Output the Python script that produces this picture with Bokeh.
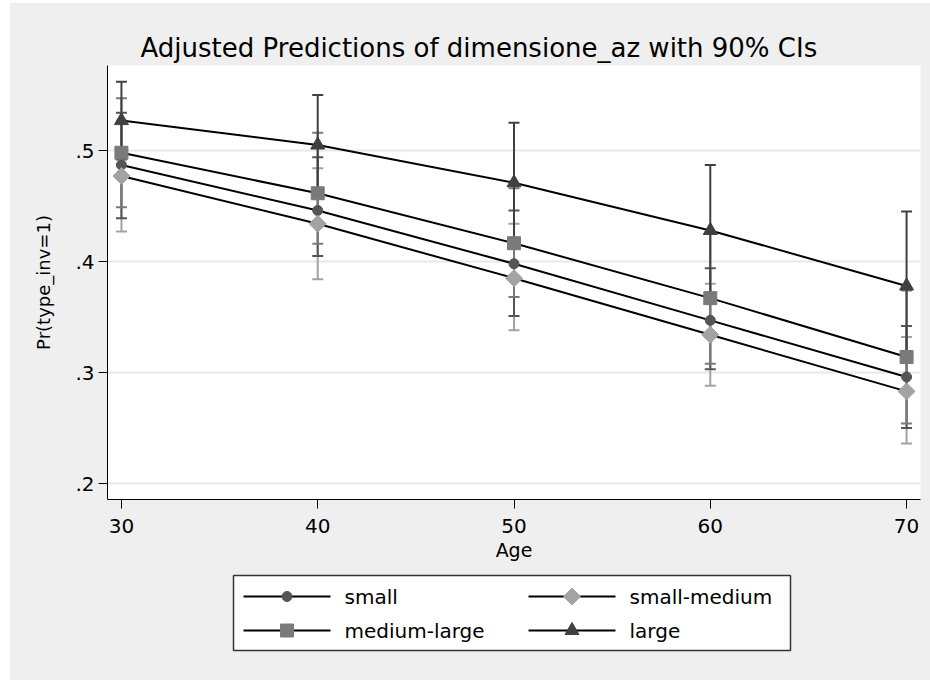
from bokeh.plotting import figure
from bokeh.layouts import column
from bokeh.models import (Range1d, FixedTicker, CustomJSTickFormatter, Title)
from bokeh.core.properties import value
from bokeh.embed import file_html
from bokeh.resources import INLINE
import math

# ---- data ----
ages = [30, 40, 50, 60, 70]
series_names = ["small", "small-medium", "medium-large", "large"]

small = [0.487, 0.446, 0.398, 0.347, 0.296]
small_lo = [0.439, 0.405, 0.351, 0.303, 0.250]
small_hi = [0.534, 0.494, 0.446, 0.394, 0.342]

small_medium = [0.477, 0.434, 0.385, 0.334, 0.283]
small_medium_lo = [0.427, 0.384, 0.338, 0.288, 0.236]
small_medium_hi = [0.527, 0.484, 0.434, 0.380, 0.332]

medium_large = [0.498, 0.4615, 0.4165, 0.367, 0.314]
medium_large_lo = [0.449, 0.416, 0.368, 0.308, 0.254]
medium_large_hi = [0.547, 0.516, 0.466, 0.426, 0.374]

large = [0.527, 0.505, 0.471, 0.428, 0.378]
large_lo = [0.492, 0.463, 0.417, 0.369, 0.311]
large_hi = [0.562, 0.550, 0.525, 0.487, 0.445]

x_ticks = [30, 40, 50, 60, 70]
y_ticks = [0.2, 0.3, 0.4, 0.5]

FONT = "DejaVu Sans"
BG = "#efefef"

data = {
    "small": (small, small_lo, small_hi),
    "small-medium": (small_medium, small_medium_lo, small_medium_hi),
    "medium-large": (medium_large, medium_large_lo, medium_large_hi),
    "large": (large, large_lo, large_hi),
}
colors = {"small": "#555555", "small-medium": "#a3a3a3", "medium-large": "#7a7a7a", "large": "#404040"}
markers = {"small": ("circle", 10, 0.0), "small-medium": ("square", 12, math.pi / 4),
           "medium-large": ("square", 13, 0.0), "large": ("triangle", 14, 0.0)}

# ---------------- main plot ----------------
p = figure(width=920, height=562, output_backend="svg", toolbar_location=None,
           x_range=Range1d(29.29, 70.71), y_range=Range1d(0.1856, 0.5766),
           min_border_left=97, min_border_right=10, min_border_top=62, min_border_bottom=66,
           background_fill_color="white", border_fill_color=BG,
           outline_line_color=None)

p.title = Title(text="Adjusted Predictions of dimensione_az with 90% CIs", align="left", offset=33,
                text_font=FONT, text_font_size="26px", text_font_style="normal", text_color="black",
                standoff=5)

p.xaxis.ticker = FixedTicker(ticks=x_ticks)
p.yaxis.ticker = FixedTicker(ticks=y_ticks)
p.yaxis.formatter = CustomJSTickFormatter(code="return tick.toFixed(1).replace(/^0/, '');")
for ax in (p.xaxis[0], p.yaxis[0]):
    ax.axis_line_color = "black"
    ax.axis_line_width = 1
    ax.major_tick_line_color = "black"
    ax.major_tick_out = 9
    ax.major_tick_in = 0
    ax.minor_tick_line_color = None
    ax.major_label_text_font = FONT
    ax.major_label_text_font_size = "20px"
    ax.major_label_text_color = "black"
    ax.axis_label_text_font = FONT
    ax.axis_label_text_font_style = "normal"
    ax.axis_label_text_color = "black"
p.xaxis.axis_label = "Age"
p.xaxis.axis_label_text_font_size = "19px"
p.xaxis.major_label_standoff = 10
p.xaxis.axis_label_standoff = 3
p.yaxis.axis_label = "Pr(type_inv=1)"
p.yaxis.axis_label_text_font_size = "18px"
p.yaxis.major_label_orientation = "horizontal"
p.yaxis.major_label_standoff = 4
p.yaxis.axis_label_standoff = 18

p.xgrid.grid_line_color = None
p.ygrid.grid_line_color = "#e8e8e8"
p.ygrid.grid_line_width = 2

# CIs (drawn first)
for name in ["small-medium", "small", "medium-large", "large"]:
    y, lo, hi = data[name]
    c = colors[name]
    p.segment(x0=ages, y0=lo, x1=ages, y1=hi, line_color=c, line_width=2)
    p.scatter(x=ages, y=lo, marker="dash", size=11, line_color=c, line_width=2)
    p.scatter(x=ages, y=hi, marker="dash", size=11, line_color=c, line_width=2)

for name in series_names:
    y, lo, hi = data[name]
    c = colors[name]
    mk, sz, ang = markers[name]
    p.line(ages, y, line_color="black", line_width=2)
    p.scatter(ages, y, marker=mk, size=sz, angle=ang, fill_color=c, line_color=c)

# ---------------- legend panel ----------------
# its frame is aligned with the main frame (page x 107..920); use page-pixel coordinates
lg = figure(width=920, height=115, output_backend="svg", toolbar_location=None,
            x_range=Range1d(107, 920), y_range=Range1d(680, 565),
            x_axis_type=None, y_axis_type=None,
            min_border_left=97, min_border_right=10, min_border_top=0, min_border_bottom=0,
            background_fill_color=BG, border_fill_color=BG, outline_line_color=None)
lg.xgrid.grid_line_color = None
lg.ygrid.grid_line_color = None

lg.quad(left=[233], right=[790], top=[575], bottom=[650], fill_color="white",
        line_color="#333333", line_width=1.5)

slot_x = [243, 528, 243, 528]     # left end of each key line
slot_y = [596, 596, 630, 630]     # row centre
key_w = 87
for i, name in enumerate(series_names):
    c = colors[name]
    mk, sz, ang = markers[name]
    x0 = slot_x[i]
    yy = slot_y[i]
    lg.segment(x0=[x0], y0=[yy], x1=[x0 + key_w], y1=[yy], line_color="black", line_width=2)
    lg.scatter([x0 + key_w / 2], [yy], marker=mk, size=sz, angle=-ang, fill_color=c, line_color=c)
    lg.text([x0 + key_w + 14], [yy], text=[name], text_font=value(FONT), text_font_size="20px",
            text_baseline="middle", text_align="left", text_color="black")

layout = column(p, lg, spacing=0, margin=(3, 0, 0, 10), styles={"background-color": BG})
open("out.html", "w").write(file_html(layout, INLINE))
